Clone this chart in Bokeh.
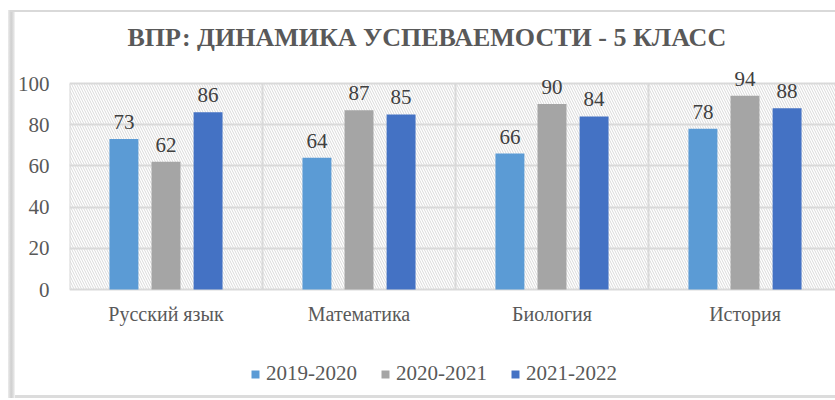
from bokeh.plotting import figure
from bokeh.models import ColumnDataSource, FixedTicker, Range1d, Title, Legend, LegendItem
from bokeh.core.properties import value
from bokeh.embed import file_html
from bokeh.resources import INLINE

categories = ["Русский язык", "Математика", "Биология", "История"]
series_names = ["2019-2020", "2020-2021", "2021-2022"]
values_2019 = [73, 64, 66, 78]
values_2020 = [62, 87, 90, 94]
values_2021 = [86, 85, 84, 88]
colors = ["#5B9BD5", "#A5A5A5", "#4472C4"]
y_ticks = [0, 20, 40, 60, 80, 100]

FONT = "'Liberation Serif', serif"
TXT = "#595959"

W, H = 835, 400
LEFT = 69
TOP100 = 83                         # pixel row of the 100 line
FRAME_TOP = 58                      # frame starts higher so top labels are not clipped
CHART_PX = 206                      # pixel height of the 0..100 span
CAT_PX = 193                        # pixel width of one category
PPU = CHART_PX / 100.0
y_start = -(H - TOP100 - CHART_PX) / PPU
y_end = 100 + (TOP100 - FRAME_TOP) / PPU
x_end = (W - LEFT) / CAT_PX

p = figure(width=W, height=H, output_backend="svg", toolbar_location=None,
           x_range=Range1d(0, x_end), y_range=Range1d(y_start, y_end),
           min_border_left=LEFT, min_border_right=0, min_border_top=FRAME_TOP, min_border_bottom=0)
p.background_fill_alpha = 0
p.border_fill_alpha = 0
p.outline_line_color = None
p.styles = {
    "background": ("linear-gradient(#d9d9d9,#d9d9d9) 10px 10px / 100% 2px no-repeat, "
                   "linear-gradient(to right,#ececec,#cfcfcf 45%,#dedede 75%,#f6f6f6) 8px 10px / 7px 388px no-repeat, "
                   "linear-gradient(#dcdcdc,#dcdcdc) 10px 395px / 100% 3px no-repeat, white")
}

# hatched plot area background
p.quad(left=[0], right=[len(categories)], bottom=[0], top=[100],
       fill_color="white", line_color=None,
       hatch_pattern="left_diagonal_line", hatch_color="#d9d9d9",
       hatch_scale=5, hatch_weight=1, level="underlay")

# vertical category separators (grid)
bounds = list(range(len(categories) + 1))
p.segment(x0=bounds, y0=[0] * len(bounds), x1=bounds, y1=[100] * len(bounds),
          line_color="#d9d9d9", line_width=2, level="underlay")

offsets = [-0.218, 0.0, 0.218]
all_vals = [values_2019, values_2020, values_2021]
items = []
for i, (name, vals, col) in enumerate(zip(series_names, all_vals, colors)):
    xs = [k + 0.5 + offsets[i] for k in range(len(categories))]
    src = ColumnDataSource(dict(x=xs, top=vals, ly=[v + 17 / PPU for v in vals],
                                lab=[str(v) for v in vals]))
    r = p.vbar(x="x", top="top", width=0.15, bottom=0, source=src,
               fill_color=col, line_color=None)
    p.text(x="x", y="ly", text="lab", source=src, text_align="center",
           text_baseline="alphabetic", text_font=value(FONT),
           text_font_size="21px", text_color="#404040")
    items.append(LegendItem(label=name, renderers=[r]))

# category labels under the baseline
cat_src = ColumnDataSource(dict(x=[k + 0.5 for k in range(len(categories))],
                                y=[-24 / PPU] * len(categories), t=categories))
p.text(x="x", y="y", text="t", source=cat_src, text_align="center",
       text_baseline="middle", text_font=value(FONT), text_font_size="20px",
       text_color=TXT)

# grid
p.ygrid.ticker = FixedTicker(ticks=y_ticks)
p.ygrid.grid_line_color = "#d9d9d9"
p.ygrid.grid_line_width = 2
p.xgrid.visible = False
p.xaxis.visible = False

# y axis
p.yaxis.ticker = FixedTicker(ticks=y_ticks)
p.yaxis.axis_line_color = None
p.yaxis.major_tick_line_color = None
p.yaxis.minor_tick_line_color = None
p.yaxis.major_label_text_font = FONT
p.yaxis.major_label_text_font_size = "21px"
p.yaxis.major_label_text_color = TXT
p.yaxis.major_label_standoff = 14

legend = Legend(items=items, orientation="horizontal", location=(181, 14),
                label_text_font=FONT, label_text_font_size="21px",
                label_text_color=TXT, glyph_width=10, glyph_height=10,
                label_standoff=6, spacing=23, padding=0, margin=0,
                border_line_color=None, background_fill_alpha=0)
p.add_layout(legend, "center")

title = Title(text="ВПР: ДИНАМИКА УСПЕВАЕМОСТИ - 5 КЛАСС", text_font=FONT,
              text_font_size="26px", text_font_style="bold", text_color=TXT,
              align="left", offset=58, standoff=13)
p.add_layout(title, "above")

open("out.html", "w").write(file_html(p, INLINE))
